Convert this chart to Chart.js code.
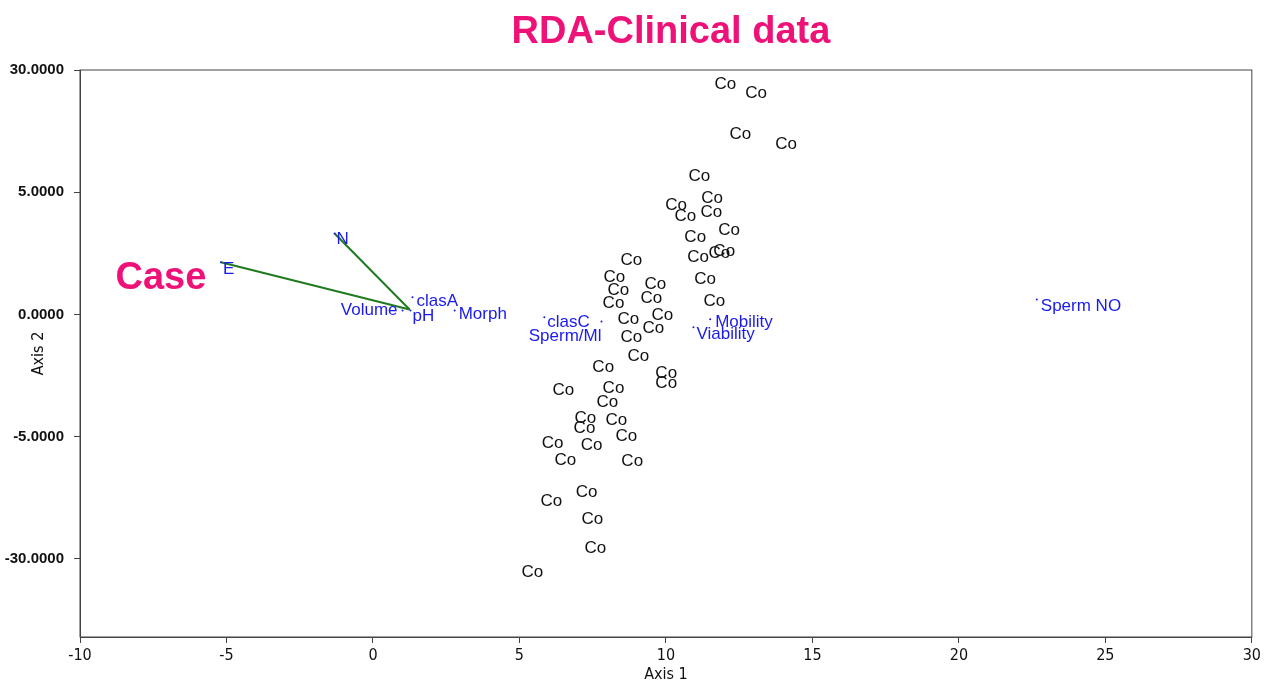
<!DOCTYPE html>
<html>
<head>
<meta charset="utf-8">
<script src="https://cdn.jsdelivr.net/npm/chart.js@4.4.1/dist/chart.umd.min.js"></script>
<style>
  html, body { margin: 0; padding: 0; background: #fff; }
</style>
</head>
<body>
<canvas id="rdaChart" width="1264" height="682"></canvas>
<script>
// sample scores (all "Co")
const coLabel = "Co";
const coX = [12.03, 13.08, 12.54, 14.10, 11.14, 11.58, 10.35, 10.66, 11.55, 12.16,
             11.00, 11.10, 11.82, 11.99, 8.82, 8.24, 8.38, 9.64, 9.50, 8.21,
             11.34, 11.65, 8.72, 9.88, 9.57, 8.82, 9.06, 7.86, 10.01, 10.01,
             6.50, 8.21, 8.00, 7.25, 7.22, 8.31, 8.65, 6.13, 7.46, 6.57,
             8.85, 7.29, 6.09, 7.49, 7.59, 5.44];
const coY = [9.41, 9.04, 7.36, 6.96, 5.65, 4.75, 4.46, 4.01, 4.17, 3.44,
             3.15, 2.33, 2.50, 2.58, 2.21, 1.51, 0.98, 1.23, 0.65, 0.45,
             1.43, 0.53, -0.20, -0.04, -0.57, -0.94, -1.72, -2.17, -2.41, -2.82,
             -3.11, -3.03, -3.60, -4.26, -4.66, -4.34, -4.99, -5.28, -5.36, -5.97,
             -6.01, -7.28, -7.65, -8.39, -9.57, -10.56];

// explanatory variables
const varNames = ["E", "N", "Volume", "clasA", "pH", "Morph", "clasC", "Sperm/Ml", "Mobility", "Viability", "Sperm NO"];
const varX = [-5.19, -1.31, 1.01, 1.35, 1.28, 2.79, 5.85, 7.80, 11.51, 10.94, 22.66];
const varY = [2.13, 3.31, 0.16, 0.70, 0.16, 0.16, -0.12, -0.29, -0.20, -0.53, 0.61];

// green vectors
const vecOrigin = [1.25, 0.20];
const vecToX = [-5.19, -1.31];
const vecToY = [2.13, 3.31];

// axes
const yTickValues = [-10, -5, 0, 5, 10];
const yTickLabels = ["-30.0000", "-5.0000", "0.0000", "5.0000", "30.0000"];

const titleText = "RDA-Clinical data";
const caseText = "Case";
const caseAt = [-7.24, 1.47];

// label placement (pixels from the point)
const varLabelPos = {
  "E":        { align: "left",  dx: 2,  dy: 7 },
  "N":        { align: "left",  dx: 2,  dy: 6 },
  "Volume":   { align: "right", dx: -5, dy: 0 },
  "clasA":    { align: "left",  dx: 4,  dy: 4 },
  "pH":       { align: "left",  dx: 2,  dy: 6 },
  "Morph":    { align: "left",  dx: 4,  dy: 4 },
  "clasC":    { align: "left",  dx: 3,  dy: 5 },
  "Sperm/Ml": { align: "right", dx: 0,  dy: 15 },
  "Mobility": { align: "left",  dx: 5,  dy: 3 },
  "Viability":{ align: "left",  dx: 3,  dy: 7 },
  "Sperm NO": { align: "left",  dx: 4,  dy: 7 }
};

const PINK = "#ee1278";
const BLUE = "#1a1aee";
const narrow = "'DejaVu Sans Condensed', 'Liberation Sans Narrow', 'Liberation Sans', Arial, sans-serif";
const sans = "'Liberation Sans', Arial, sans-serif";

const textPlugin = {
  id: "rdaText",
  afterDatasetsDraw(chart) {
    const ctx = chart.ctx;
    const area = chart.chartArea;
    const xs = chart.scales.x, ys = chart.scales.y;
    ctx.save();

    ctx.font = "17px " + sans;
    ctx.fillStyle = "#111";
    ctx.textAlign = "center";
    ctx.textBaseline = "middle";
    chart.getDatasetMeta(0).data.forEach(pt => ctx.fillText(coLabel, pt.x, pt.y));

    ctx.fillStyle = BLUE;
    chart.getDatasetMeta(1).data.forEach((pt, i) => {
      const s = varLabelPos[varNames[i]];
      ctx.textAlign = s.align;
      ctx.fillText(varNames[i], pt.x + s.dx, pt.y + s.dy);
    });

    ctx.font = "bold 38px " + sans;
    ctx.fillStyle = PINK;
    ctx.textAlign = "center";
    ctx.fillText(caseText, xs.getPixelForValue(caseAt[0]), ys.getPixelForValue(caseAt[1]));
    ctx.fillText(titleText, (area.left + area.right) / 2 + 5, 33);

    // frame
    ctx.strokeStyle = "#444";
    ctx.lineWidth = 1;
    ctx.strokeRect(area.left, area.top, area.right - area.left, area.bottom - area.top);
    ctx.restore();
  }
};

const datasets = [
  {
    label: "Co",
    data: coX.map((x, i) => ({ x: x, y: coY[i] })),
    pointRadius: 0
  },
  {
    label: "variables",
    data: varX.map((x, i) => ({ x: x, y: varY[i] })),
    pointRadius: 1,
    pointBackgroundColor: BLUE,
    pointBorderWidth: 0
  }
];
vecToX.forEach((x, i) => {
  datasets.push({
    label: "vector " + i,
    data: [{ x: vecOrigin[0], y: vecOrigin[1] }, { x: x, y: vecToY[i] }],
    showLine: true,
    borderColor: "#1f7a1f",
    borderWidth: 2,
    pointRadius: 0
  });
});

new Chart(document.getElementById("rdaChart"), {
  type: "scatter",
  data: { datasets: datasets },
  plugins: [textPlugin],
  options: {
    responsive: false,
    animation: false,
    devicePixelRatio: 1,
    layout: { padding: { top: 70, right: 11, left: 0, bottom: 0 } },
    plugins: {
      legend: { display: false },
      tooltip: { enabled: false }
    },
    scales: {
      x: {
        type: "linear",
        min: -10,
        max: 30,
        ticks: { stepSize: 5, color: "#111", padding: 3, font: { family: narrow, size: 16 } },
        grid: { display: true, drawOnChartArea: false, drawTicks: true, tickLength: 6, color: "#444" },
        border: { display: true, color: "#444" },
        title: { display: true, text: "Axis 1", color: "#111", font: { family: narrow, size: 16 }, padding: { top: 0, bottom: -2 } },
        afterFit(s) { s.height = 45; }
      },
      y: {
        type: "linear",
        min: -13.2,
        max: 10,
        afterBuildTicks(s) { s.ticks = yTickValues.map(v => ({ value: v })); },
        ticks: {
          color: "#111",
          padding: 10,
          font: { family: sans, size: 15, weight: "bold" },
          callback: (v) => yTickLabels[yTickValues.indexOf(v)]
        },
        grid: { display: true, drawOnChartArea: false, drawTicks: true, tickLength: 6, color: "#444" },
        border: { display: true, color: "#444" },
        title: { display: true, text: "Axis 2", color: "#111", font: { family: narrow, size: 16 }, padding: { top: 29, bottom: 0 } },
        afterFit(s) { s.width = 80; }
      }
    }
  }
});
</script>
</body>
</html>
